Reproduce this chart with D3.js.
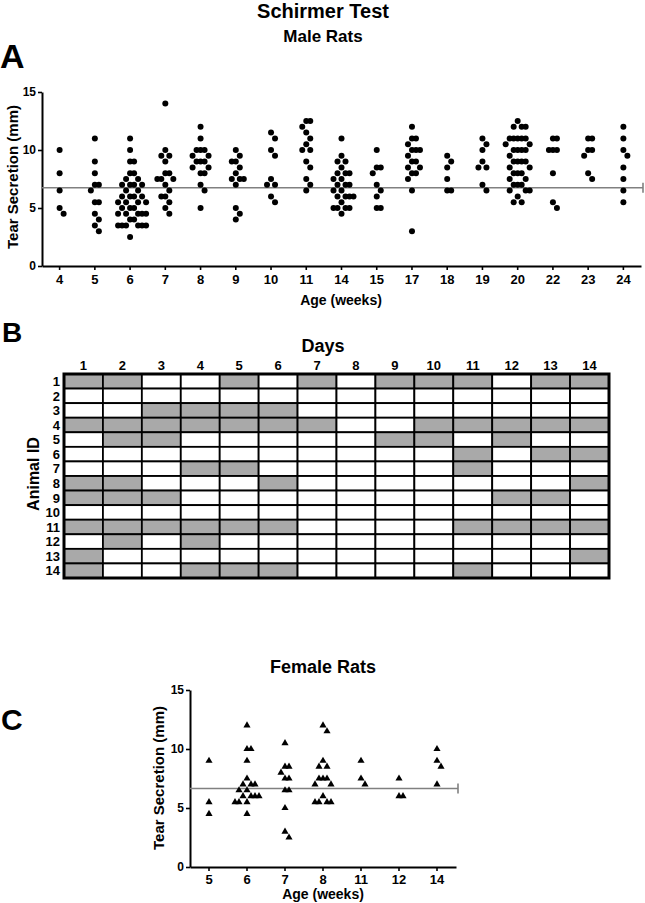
<!DOCTYPE html>
<html><head><meta charset="utf-8">
<script src="https://cdn.jsdelivr.net/npm/d3@7"></script>
<style>
body{margin:0;background:#fff}
text{font-family:"Liberation Sans",Arial,Helvetica,sans-serif;font-weight:bold;fill:#000}
</style>
</head><body>
<svg id="chart" width="645" height="903"></svg>
<script>
// ---------------- DATA ----------------
const maleAges = ["4","5","6","7","8","9","10","11","14","15","17","18","19","20","22","23","24"];
const maleSecretion = [
  [10, 8, 6.5, 5, 4.5],
  [11, 9, 8, 7, 7, 6.5, 5.5, 5.5, 4.5, 4, 3.5, 3],
  [11, 10, 9, 9, 8, 8, 7.5, 7.5, 7, 7, 7, 7, 6.5, 6.5, 6, 6, 6, 6, 5.5, 5.5, 5.5, 5.5, 5, 5, 5, 4.5, 4.5, 4.5, 4.5, 4.5, 4, 4, 3.5, 3.5, 3.5, 3.5, 3.5, 3.5, 2.5],
  [14, 10, 9.5, 9.5, 9, 8, 8, 7.5, 7.5, 7.5, 7, 6.5, 6, 6, 5.5, 5, 4.5],
  [12, 11, 10, 10, 10, 9.5, 9.5, 9, 9, 9, 8.5, 8.5, 8, 8, 7, 6.5, 5],
  [10, 9.5, 9, 9, 8.5, 8, 7.5, 7.5, 7.5, 7, 5, 4.5, 4],
  [11.5, 11, 10, 9.5, 7.5, 7, 7, 6, 5.5],
  [12.5, 12.5, 12, 11.5, 11, 10.5, 10, 10, 9, 8.5, 7.5, 7, 6.5],
  [11, 9.5, 9, 9, 8.5, 8, 8, 8, 7.5, 7.5, 7, 7, 7, 6.5, 6.5, 6, 6, 6, 6, 5.5, 5, 5, 5, 5, 4.5],
  [10, 8.5, 8.5, 8, 7, 6.5, 6, 5, 5],
  [12, 11, 11, 10.5, 10, 10, 10, 9.5, 9, 9, 8.5, 8.5, 8, 8, 7.5, 6.5, 3],
  [9.5, 9, 8.5, 7.5, 6.5, 6.5],
  [11, 10.5, 10, 9, 8.5, 8.5, 7, 6.5],
  [12.5, 12, 12, 12, 11, 11, 11, 11, 11, 10.5, 10.5, 10, 10, 10, 10, 9.5, 9, 9, 9, 9, 8.5, 8.5, 8, 8, 8, 7.5, 7.5, 7, 7, 7, 6.5, 6.5, 6.5, 6, 5.5, 5.5],
  [11, 11, 10, 10, 10, 8, 5.5, 5],
  [11, 11, 10, 10, 9.5, 8, 7.5],
  [12, 11, 10, 9.5, 8.5, 7.5, 6.5, 5.5]
];
const maleReference = 6.75;

const days = ["1","2","3","4","5","6","7","8","9","10","11","12","13","14"];
const animals = ["1","2","3","4","5","6","7","8","9","10","11","12","13","14"];
// days marked (grey) for each animal
const markedDays = [
  [1, 2, 5, 7, 9, 10, 11, 13, 14],
  [],
  [3, 4, 5, 6],
  [1, 2, 3, 4, 5, 6, 7, 10, 11, 12, 13, 14],
  [2, 3, 9, 10, 12],
  [11, 13, 14],
  [4, 5, 11],
  [1, 2, 6, 14],
  [1, 2, 3, 12, 13],
  [],
  [1, 2, 3, 4, 5, 6, 11, 12, 13, 14],
  [2, 4],
  [1, 14],
  [1, 4, 5, 6, 11]
];

const femaleAges = ["5","6","7","8","11","12","14"];
const femaleSecretion = [
  [9, 5.5, 4.5],
  [12, 10, 10, 9, 7.5, 7, 7, 7, 6.5, 6.5, 6, 6, 6, 6, 5.5, 5.5, 5.5, 4.5],
  [10.5, 8.5, 8.5, 8, 7.5, 7.5, 6.5, 6.5, 5, 3, 2.5],
  [12, 11.5, 9, 8.5, 8.5, 7.5, 7.5, 7.5, 7, 7, 6, 5.5, 5.5, 5.5, 5.5],
  [9, 7.5, 7],
  [7.5, 6, 6],
  [10, 9, 8.5, 7]
];
const femaleReference = 6.65;

const yTicks = [0, 5, 10, 15];

// ---------------- HELPERS ----------------
const svg = d3.select("#chart");
svg.append("rect").attr("width", 645).attr("height", 903).attr("fill", "#fff");

// greedy column scatter (GraphPad-like): rows spread sideways in fixed steps
function swarm(values, yScale, step, rx, ry) {
  const placed = [];
  values.slice().sort((a, b) => b - a).forEach(v => {
    const y = yScale(v);
    for (let k = 0; k < 50; k++) {
      const cands = k === 0 ? [0] : [k * step, -k * step];
      let ok = null;
      for (const dx of cands) {
        if (!placed.some(p => ((p.dx - dx) / rx) ** 2 + ((p.y - y) / ry) ** 2 < 0.999)) { ok = dx; break; }
      }
      if (ok !== null) { placed.push({ v, y, dx: ok }); break; }
    }
  });
  return placed;
}

function styleAxis(g, fs) {
  g.select(".domain").attr("stroke", "#000").attr("stroke-width", 2);
  g.selectAll(".tick line").attr("stroke", "#000").attr("stroke-width", 1.6);
  g.selectAll(".tick text").attr("font-size", fs).attr("fill", "#000")
    .style("font-family", '"Liberation Sans",Arial,sans-serif').style("font-weight", "bold");
}

// ---------------- TITLES ----------------
svg.append("text").attr("x", 323).attr("y", 18).attr("text-anchor", "middle")
  .attr("font-size", 20).text("Schirmer Test");
svg.append("text").attr("x", 323).attr("y", 42).attr("text-anchor", "middle")
  .attr("font-size", 17).text("Male Rats");
svg.append("text").attr("x", 0).attr("y", 68).attr("font-size", 34).text("A");

// ---------------- PANEL A ----------------
const xA = d3.scaleBand().domain(maleAges).range([42, 641]);
const yA = d3.scaleLinear().domain([0, 15]).range([266, 92]);
const gA = svg.append("g");

gA.append("g").attr("transform", "translate(0,266)")
  .call(d3.axisBottom(xA).tickSize(4).tickSizeOuter(0).tickPadding(5))
  .call(g => styleAxis(g, 13));
gA.append("g").attr("transform", "translate(42,0)")
  .call(d3.axisLeft(yA).tickValues(yTicks).tickSize(4).tickSizeOuter(0).tickPadding(2))
  .call(g => styleAxis(g, 12));

gA.append("text").attr("x", 341).attr("y", 305).attr("text-anchor", "middle")
  .attr("font-size", 14).text("Age (weeks)");
gA.append("text").attr("transform", "translate(18,177) rotate(-90)").attr("text-anchor", "middle")
  .attr("font-size", 15).text("Tear Secretion (mm)");

// reference line
const yRefA = yA(maleReference);
gA.append("line").attr("x1", xA.range()[0]).attr("x2", 643).attr("y1", yRefA).attr("y2", yRefA)
  .attr("stroke", "#808080").attr("stroke-width", 1.6);
gA.append("line").attr("x1", 643).attr("x2", 643).attr("y1", yRefA - 5).attr("y2", yRefA + 5)
  .attr("stroke", "#808080").attr("stroke-width", 1.6);

maleAges.forEach((age, i) => {
  const cx = xA(age) + xA.bandwidth() / 2;
  const pts = swarm(maleSecretion[i], yA, 4, 3.6, 6.2);
  gA.append("g").selectAll("circle").data(pts).join("circle")
    .attr("cx", d => cx + d.dx).attr("cy", d => d.y).attr("r", 3).attr("fill", "#000");
});

// ---------------- PANEL B ----------------
svg.append("text").attr("x", 2).attr("y", 342).attr("font-size", 28).text("B");
svg.append("text").attr("x", 323).attr("y", 352).attr("text-anchor", "middle")
  .attr("font-size", 18).text("Days");
const xB = d3.scaleBand().domain(days).range([64, 609]);
const yB = d3.scaleBand().domain(animals).range([374, 578]);
const gB = svg.append("g");

animals.forEach((a, r) => {
  gB.append("g").selectAll("rect").data(days).join("rect")
    .attr("x", d => xB(d)).attr("y", yB(a))
    .attr("width", xB.bandwidth()).attr("height", yB.bandwidth())
    .attr("fill", d => markedDays[r].includes(+d) ? "#a9a9a9" : "#fff")
    .attr("stroke", "#000").attr("stroke-width", 1.8);
});
gB.append("rect").attr("x", 64).attr("y", 374).attr("width", 545).attr("height", 204)
  .attr("fill", "none").attr("stroke", "#000").attr("stroke-width", 3);

gB.selectAll("text.col").data(days).join("text").attr("class", "col")
  .attr("x", d => xB(d) + xB.bandwidth() / 2).attr("y", 370).attr("text-anchor", "middle")
  .attr("font-size", 13).text(d => d);
gB.selectAll("text.row").data(animals).join("text").attr("class", "row")
  .attr("x", 60).attr("y", d => yB(d) + yB.bandwidth() / 2).attr("dy", "0.36em")
  .attr("text-anchor", "end").attr("font-size", 13).text(d => d);
gB.append("text").attr("transform", "translate(39,474) rotate(-90)").attr("text-anchor", "middle")
  .attr("font-size", 16).text("Animal ID");

// ---------------- PANEL C ----------------
svg.append("text").attr("x", 1).attr("y", 730).attr("font-size", 30).text("C");
svg.append("text").attr("x", 323).attr("y", 673).attr("text-anchor", "middle")
  .attr("font-size", 18).text("Female Rats");
const xC = d3.scaleBand().domain(femaleAges).range([190, 456]);
const yC = d3.scaleLinear().domain([0, 15]).range([867, 690]);
const gC = svg.append("g");

gC.append("g").attr("transform", "translate(0,867)")
  .call(d3.axisBottom(xC).tickSize(4).tickSizeOuter(0).tickPadding(4))
  .call(g => styleAxis(g, 13));
gC.append("g").attr("transform", "translate(190,0)")
  .call(d3.axisLeft(yC).tickValues(yTicks).tickSize(4).tickSizeOuter(0).tickPadding(2))
  .call(g => styleAxis(g, 12));

gC.append("text").attr("x", 323).attr("y", 899).attr("text-anchor", "middle")
  .attr("font-size", 14).text("Age (weeks)");
gC.append("text").attr("transform", "translate(164,778) rotate(-90)").attr("text-anchor", "middle")
  .attr("font-size", 15).text("Tear Secretion (mm)");

const yRefC = yC(femaleReference);
gC.append("line").attr("x1", xC.range()[0]).attr("x2", 458).attr("y1", yRefC).attr("y2", yRefC)
  .attr("stroke", "#808080").attr("stroke-width", 1.6);
gC.append("line").attr("x1", 458).attr("x2", 458).attr("y1", yRefC - 5).attr("y2", yRefC + 5)
  .attr("stroke", "#808080").attr("stroke-width", 1.6);

const tri = d3.symbol().type(d3.symbolTriangle).size(22);
femaleAges.forEach((age, i) => {
  const cx = xC(age) + xC.bandwidth() / 2;
  const pts = swarm(femaleSecretion[i], yC, 4, 4, 6.3);
  gC.append("g").selectAll("path").data(pts).join("path")
    .attr("d", tri).attr("transform", d => `translate(${cx + d.dx},${d.y})`).attr("fill", "#000");
});
</script>
</body></html>
